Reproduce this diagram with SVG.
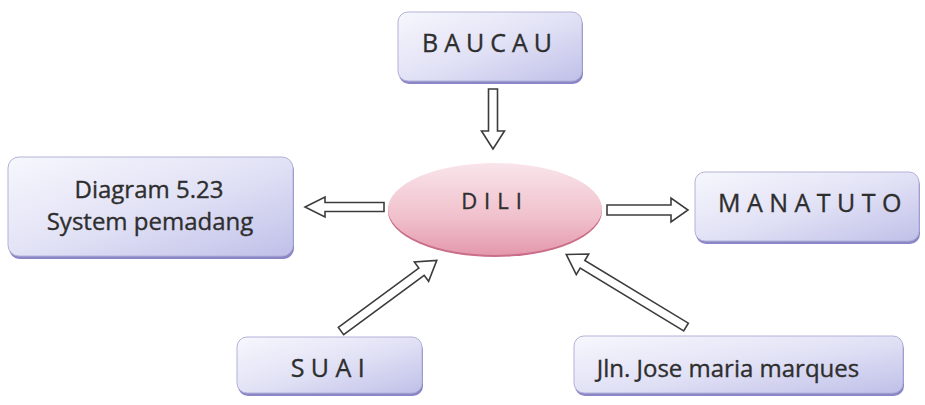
<svg xmlns="http://www.w3.org/2000/svg" width="925" height="405" viewBox="0 0 925 405">
  <defs>
    <linearGradient id="boxFill" x1="0" y1="0" x2="1" y2="1">
      <stop offset="0" stop-color="#f7f7fd"/>
      <stop offset="0.5" stop-color="#e2e2f6"/>
      <stop offset="1" stop-color="#c0c0e9"/>
    </linearGradient>
    <linearGradient id="pinkFill" x1="0" y1="0" x2="0" y2="1">
      <stop offset="0" stop-color="#f9e4ea"/>
      <stop offset="0.6" stop-color="#f0c0cc"/>
      <stop offset="1" stop-color="#e498ac"/>
    </linearGradient>
    <style>
      .shadow { fill: #8a86c8; }
      .box { fill: url(#boxFill); stroke: #b4b2d8; stroke-width: 1; }
      .caps { font-family: "Open Sans", "Liberation Sans", sans-serif; fill: #2e2e2e; text-anchor: middle; stroke: #2e2e2e; stroke-width: 0.35; }
      .label { font-family: "Open Sans", "Liberation Sans", sans-serif; fill: #2e2e2e; text-anchor: middle; font-size: 24px; stroke: #2e2e2e; stroke-width: 0.35; }
      .arrow { fill: #ffffff; stroke: #3c3c3c; stroke-width: 1.6; stroke-linejoin: miter; }
    </style>
  </defs>

  <!-- block arrows (white fill, dark outline) -->
  <g id="connectors">
    <path class="arrow" transform="translate(493,89) rotate(90)" d="M0,-4.5 H42 V-11.5 L60,0 L42,11.5 V4.5 H0 Z"/>
    <path class="arrow" transform="translate(384,207) rotate(180)" d="M0,-4.5 H59 V-10 L79,0 L59,10 V4.5 H0 Z"/>
    <path class="arrow" transform="translate(607,210) rotate(0)" d="M0,-5 H64 V-12 L81,0 L64,12 V5 H0 Z"/>
    <path class="arrow" transform="translate(341,331) rotate(-36.4)" d="M0,-4.5 H100 V-12 L119,0 L100,12 V4.5 H0 Z"/>
    <path class="arrow" transform="translate(686,327) rotate(211.2)" d="M0,-4.5 H121 V-12 L140,0 L121,12 V4.5 H0 Z"/>
  </g>

  <g id="node-baucau">
    <rect class="shadow" x="399" y="15" width="184" height="69" rx="10"/>
    <rect class="box" x="398" y="12" width="184" height="69" rx="10"/>
    <text class="caps" x="490" y="52" font-size="25" letter-spacing="6">BAUCAU</text>
  </g>

  <g id="node-diagram">
    <rect class="shadow" x="9" y="160" width="285" height="99" rx="11"/>
    <rect class="box" x="8" y="157" width="285" height="99" rx="11"/>
    <text class="label" x="149" y="198">Diagram 5.23</text>
    <text class="label" x="150" y="230">System pemadang</text>
  </g>

  <g id="node-dili">
    <ellipse cx="495" cy="211" rx="107" ry="46" fill="#c96d88"/>
    <ellipse cx="495" cy="209" rx="107" ry="46" fill="url(#pinkFill)"/>
    <text class="caps" x="495" y="209" font-size="22" letter-spacing="7">DILI</text>
  </g>

  <g id="node-manatuto">
    <rect class="shadow" x="696" y="175" width="224" height="69" rx="10"/>
    <rect class="box" x="695" y="172" width="224" height="69" rx="10"/>
    <text class="caps" x="813" y="212" font-size="25" letter-spacing="6.5">MANATUTO</text>
  </g>

  <g id="node-suai">
    <rect class="shadow" x="238" y="340" width="185" height="56" rx="10"/>
    <rect class="box" x="237" y="337" width="185" height="56" rx="10"/>
    <text class="caps" x="331" y="377" font-size="25" letter-spacing="6.5">SUAI</text>
  </g>

  <g id="node-jln">
    <rect class="shadow" x="575" y="339" width="329" height="57" rx="10"/>
    <rect class="box" x="574" y="336" width="329" height="57" rx="10"/>
    <text class="label" x="728" y="377" font-size="25">Jln. Jose maria marques</text>
  </g>
</svg>
